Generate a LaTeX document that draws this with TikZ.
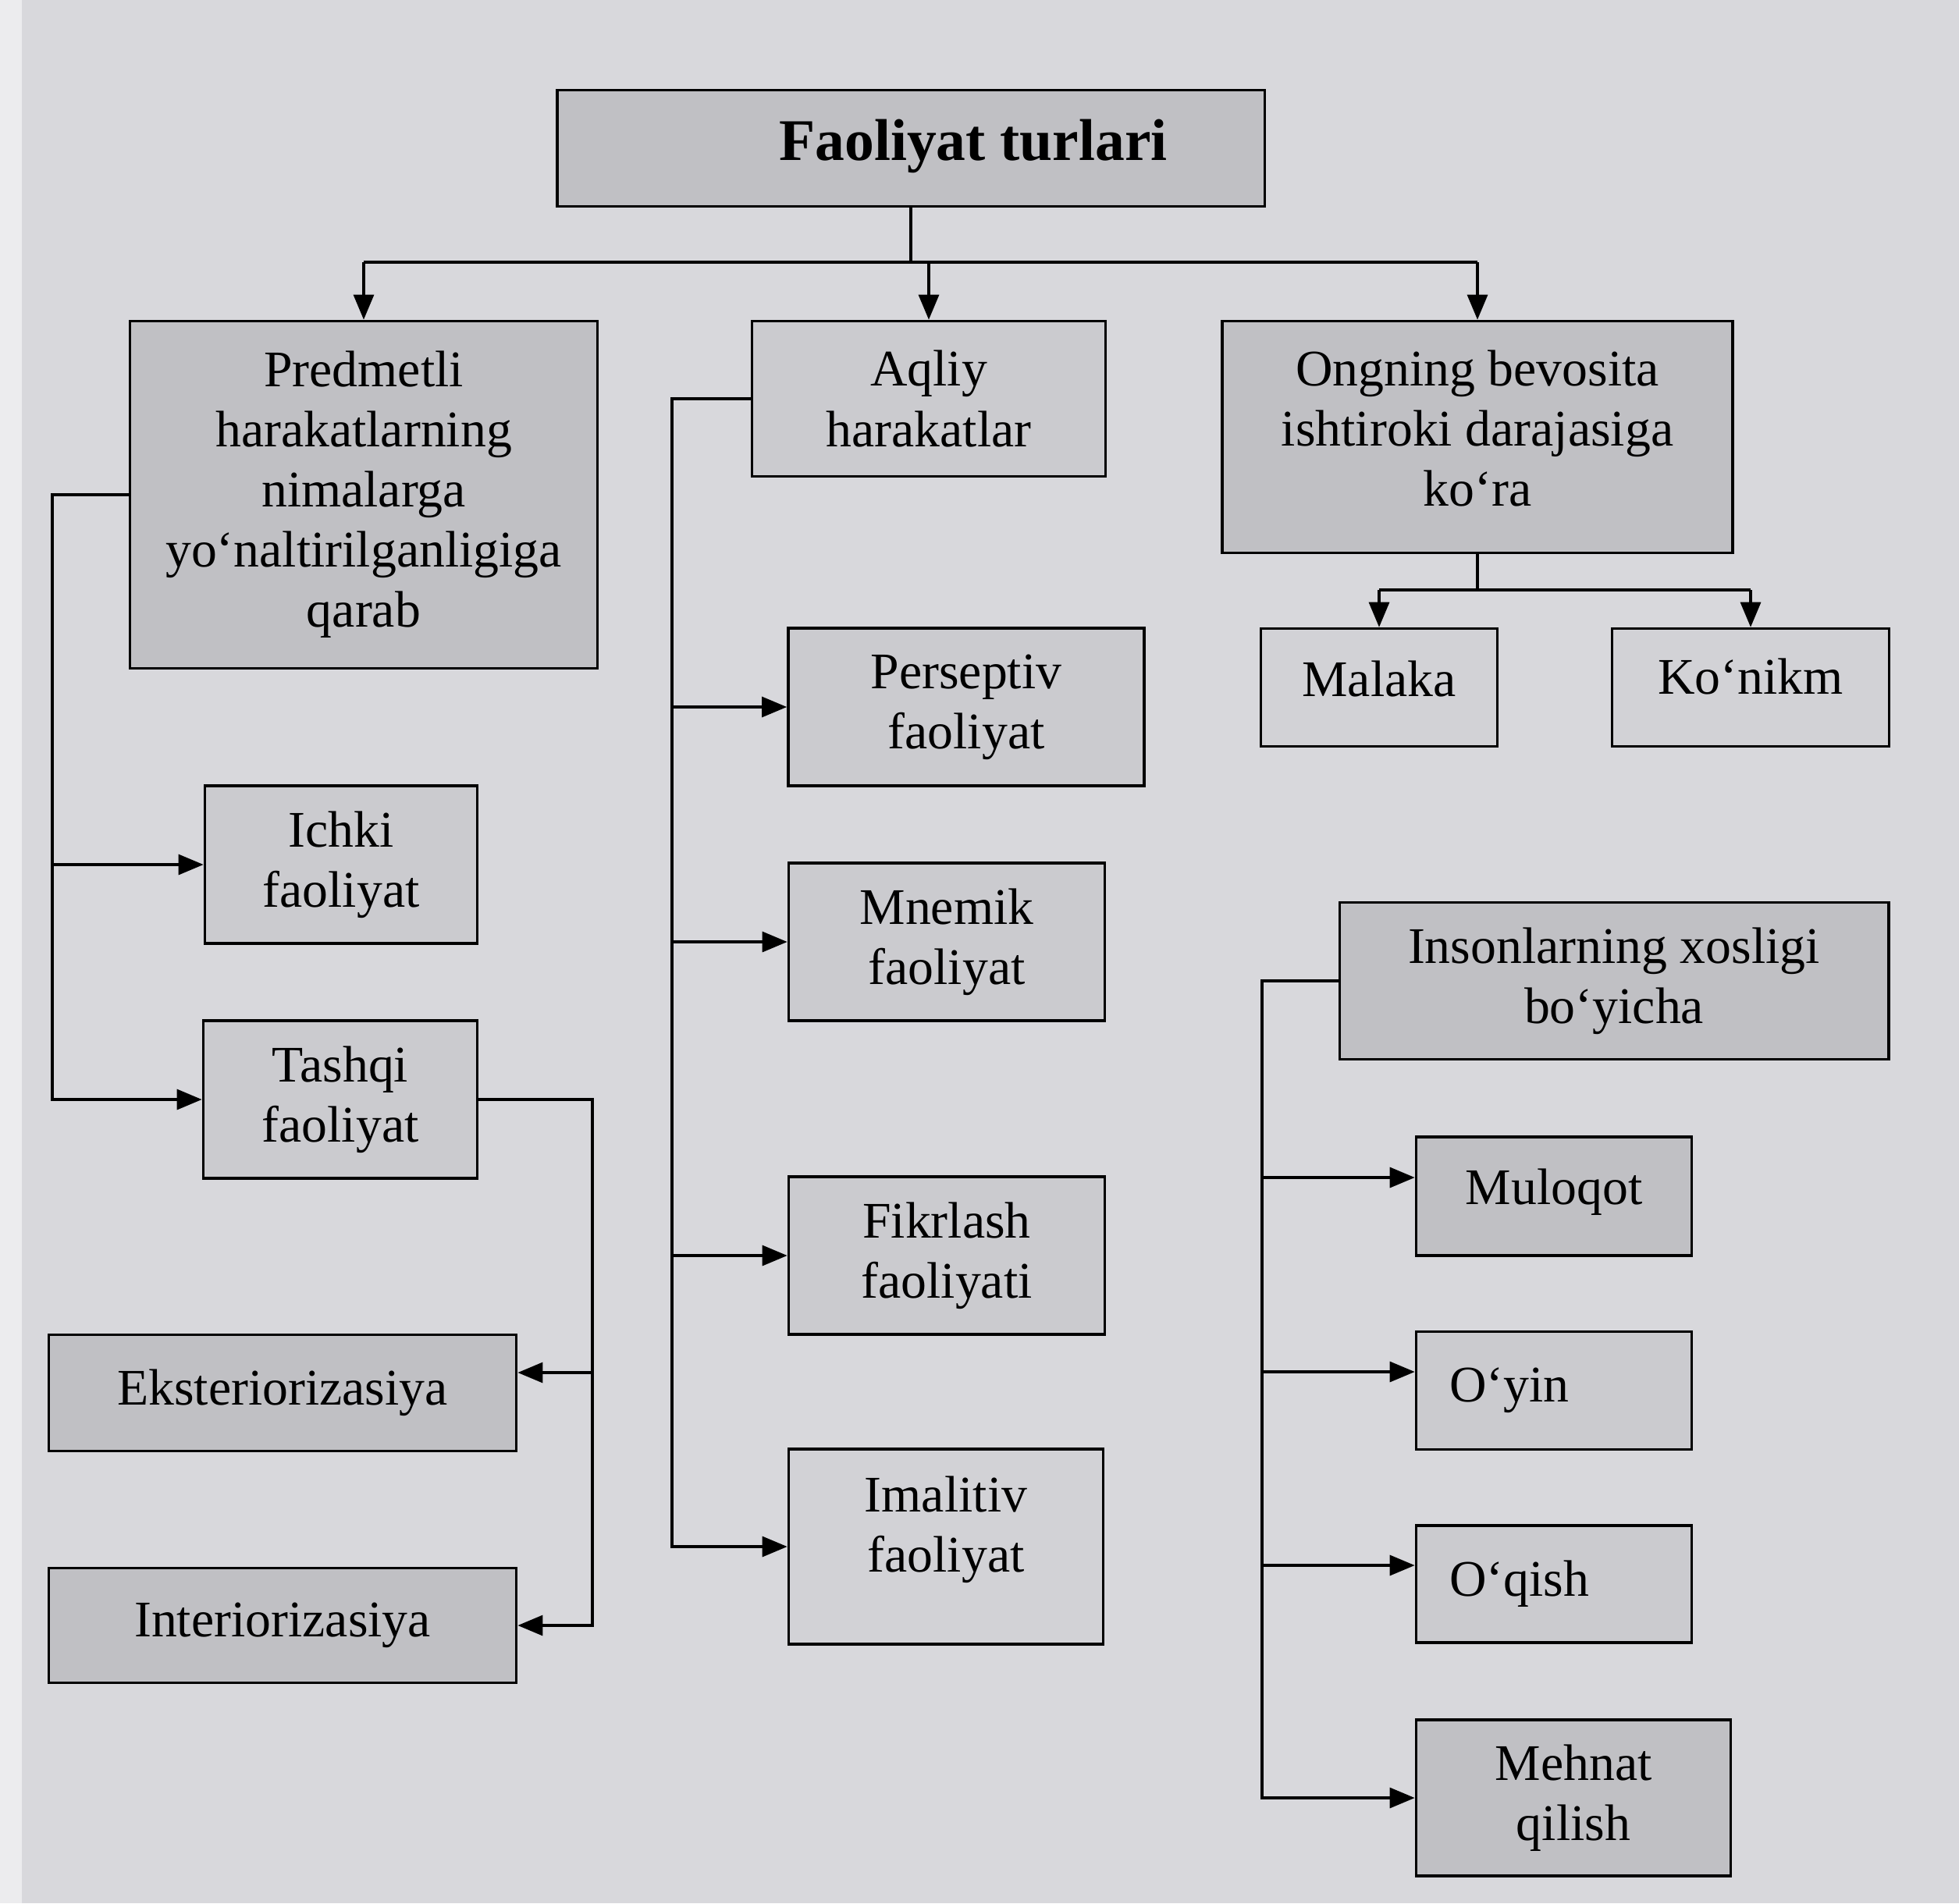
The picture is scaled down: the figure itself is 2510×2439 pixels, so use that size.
\documentclass[tikz,border=0pt]{standalone}
\usepackage{fontspec}
\setmainfont{Liberation Serif}
\usetikzlibrary{arrows.meta,calc}
\definecolor{pagebg}{HTML}{D8D8DC}
\definecolor{stripbg}{HTML}{ECECEE}
\definecolor{filldark}{HTML}{C0C0C4}
\definecolor{fillmid}{HTML}{CBCBCF}
\definecolor{filllight}{HTML}{D2D2D6}
\begin{document}
\begin{tikzpicture}[x=0.01cm,y=-0.01cm,
  every node/.style={font=\fontsize{18.7}{21.9}\selectfont},
  boxbase/.style={draw, line width=1pt, align=center, inner sep=0pt},
  boxd/.style={boxbase, fill=filldark},
  boxm/.style={boxbase, fill=fillmid},
  boxl/.style={boxbase, fill=filllight},
  leftbox/.style={align=left, inner xsep=0.43cm, text width=2.67cm},
  txt/.style={align=center, inner sep=0pt},
  arr/.style={-{Triangle[length=0.32cm,width=0.26cm]}, line width=0.9pt},
  ln/.style={line width=0.9pt}]
\useasboundingbox (0,0) rectangle (2510,2439);
\fill[pagebg] (0,0) rectangle (2510,2439);
\fill[stripbg] (0,0) rectangle (28,2439);

% boxes
\node[boxd, minimum width=9.06cm, minimum height=1.49cm] (top) at (1167,190) {};
\node[txt, font=\bfseries\fontsize{21.5}{25}\selectfont] (toptxt) at ([xshift=0.8cm,yshift=0.03cm]top.center) {Faoliyat turlari};
\node[boxd, minimum width=5.99cm, minimum height=4.45cm] (pred) at (466,634) {Predmetli\\harakatlarning\\nimalarga\\yo‘naltirilganligiga\\qarab};
\node[boxm, minimum width=4.53cm, minimum height=1.99cm] (aql) at (1190,511) {Aqliy\\harakatlar};
\node[boxd, minimum width=6.54cm, minimum height=2.97cm] (ong) at (1893,560) {};
\node[txt] (ongtxt) at ([yshift=0.11cm]ong.center) {Ongning bevosita\\ishtiroki darajasiga\\ko‘ra};
\node[boxl, minimum width=3.03cm, minimum height=1.51cm] (mal) at (1767,881) {};
\node[txt] (maltxt) at ([yshift=0.11cm]mal.center) {Malaka};
\node[boxl, minimum width=3.55cm, minimum height=1.51cm] (kon) at (2243,881) {};
\node[txt] (kontxt) at ([yshift=0.14cm]kon.center) {Ko‘nikm};
\node[boxm, minimum width=4.56cm, minimum height=2.02cm] (per) at (1238,906) {Perseptiv\\faoliyat};
\node[boxm, minimum width=3.49cm, minimum height=2.02cm] (ich) at (437,1108) {Ichki\\faoliyat};
\node[boxm, minimum width=4.05cm, minimum height=2.02cm] (mne) at (1213,1207) {Mnemik\\faoliyat};
\node[boxd, minimum width=7.03cm, minimum height=2.01cm] (ins) at (2068,1257) {Insonlarning xosligi\\bo‘yicha};
\node[boxm, minimum width=3.51cm, minimum height=2.02cm] (tas) at (436,1409) {Tashqi\\faoliyat};
\node[boxd, minimum width=3.53cm, minimum height=1.52cm] (mul) at (1991,1533) {};
\node[txt] (multxt) at ([yshift=0.05cm]mul.center) {Muloqot};
\node[boxm, minimum width=4.05cm, minimum height=2.02cm] (fik) at (1213,1609) {Fikrlash\\faoliyati};
\node[boxd, minimum width=5.99cm, minimum height=1.49cm] (eks) at (362,1785) {Eksteriorizasiya};
\node[boxm, leftbox, minimum width=3.53cm, minimum height=1.51cm] (oyin) at (1991,1782) {O‘yin};
\node[boxl, minimum width=4.03cm, minimum height=2.50cm] (ima) at (1212,1982) {};
\node[txt] (imatxt) at ([yshift=0.22cm]ima.center) {Imalitiv\\faoliyat};
\node[boxm, leftbox, minimum width=3.53cm, minimum height=1.50cm] (oqi) at (1991,2030) {O‘qish};
\node[boxd, minimum width=5.99cm, minimum height=1.47cm] (int) at (362,2083) {Interiorizasiya};
\node[boxd, minimum width=4.03cm, minimum height=2.00cm] (meh) at (2016,2304) {Mehnat\\qilish};

% arrow targets above centre
\coordinate (mulin) at ([yshift=0.24cm]mul.west);
\coordinate (oyinin) at ([yshift=0.24cm]oyin.west);
\coordinate (oqiin) at ([yshift=0.24cm]oqi.west);
\coordinate (eksin) at ([yshift=0.26cm]eks.east);

% top bus
\coordinate (bus) at (1167,336);
\draw[ln] (top.south) -- (bus);
\draw[ln] (bus -| pred.north) -- (bus -| ong.north);
\draw[arr] (bus -| pred.north) -- (pred.north);
\draw[arr] (bus -| aql.north) -- (aql.north);
\draw[arr] (bus -| ong.north) -- (ong.north);

% Predmetli branch
\coordinate (pl) at (67,634);
\draw[arr] (pred.west) -- (pl) |- (tas.west);
\draw[arr] (pl |- ich.west) -- (ich.west);

% Aqliy branch
\coordinate (al) at (861,511);
\draw[arr] (aql.west) -- (al) |- (ima.west);
\draw[arr] (al |- per.west) -- (per.west);
\draw[arr] (al |- mne.west) -- (mne.west);
\draw[arr] (al |- fik.west) -- (fik.west);

% Ongning branch
\coordinate (ob) at (1893,756);
\draw[ln] (ong.south) -- (ob);
\draw[ln] (ob -| mal.north) -- (ob -| kon.north);
\draw[arr] (ob -| mal.north) -- (mal.north);
\draw[arr] (ob -| kon.north) -- (kon.north);

% Insonlarning branch
\coordinate (il) at (1617,1257);
\draw[arr] (ins.west) -- (il) |- (meh.west);
\draw[arr] (il |- mulin) -- (mulin);
\draw[arr] (il |- oyinin) -- (oyinin);
\draw[arr] (il |- oqiin) -- (oqiin);

% Tashqi branch
\coordinate (tr) at (759,1409);
\draw[arr] (tas.east) -- (tr) |- (int.east);
\draw[arr] (tr |- eksin) -- (eksin);
\end{tikzpicture}
\end{document}
